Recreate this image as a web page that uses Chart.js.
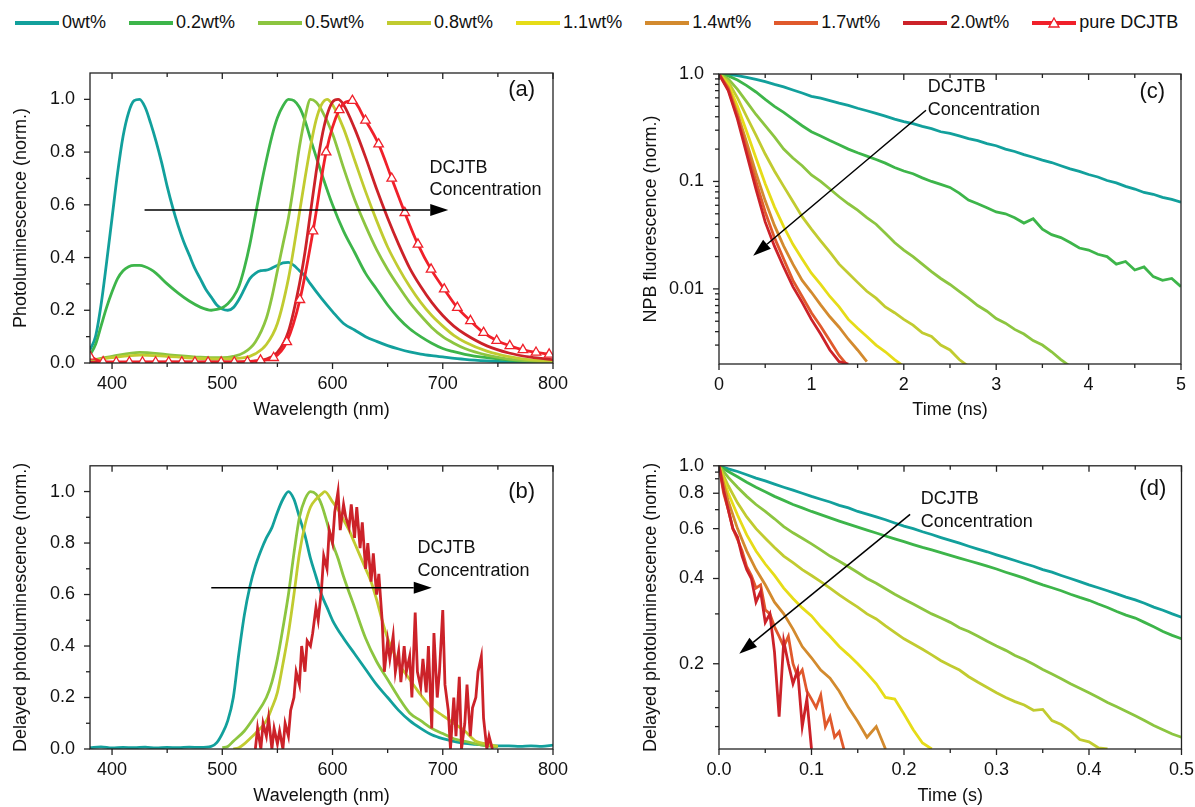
<!DOCTYPE html>
<html>
<head>
<meta charset="utf-8">
<script src="https://cdn.jsdelivr.net/npm/chart.js@4.4.1/dist/chart.umd.min.js"></script>
<style>
body { margin: 0; background: #fff; font-family: "Liberation Sans", Arial, sans-serif; }
#wrap { position: relative; width: 1195px; height: 807px; overflow: hidden; }
canvas { position: absolute; }
#legend { position: absolute; left: 15px; top: 12px; display: flex; gap: 23px; font-size: 18px; color: #111; white-space: nowrap; }
.item { display: flex; align-items: center; }
.item svg { margin-right: 3px; }
</style>
</head>
<body>
<div id="wrap">
<div id="legend"></div>
<canvas id="pa" width="600" height="400" style="left:0;top:40px"></canvas>
<canvas id="pc" width="596" height="400" style="left:600px;top:40px"></canvas>
<canvas id="pb" width="600" height="367" style="left:0;top:440px"></canvas>
<canvas id="pd" width="604" height="367" style="left:600px;top:440px"></canvas>
</div>
<script>
// ---- legend ----
const seriesNames = ['0wt%', '0.2wt%', '0.5wt%', '0.8wt%', '1.1wt%', '1.4wt%', '1.7wt%', '2.0wt%', 'pure DCJTB'];
const seriesColors = ['#12a09c', '#3db54a', '#8cc540', '#c1cb30', '#e6dc18', '#d38a2e', '#e0592c', '#cc2229', '#f0202a'];

// ---- (a) photoluminescence ----
const wlTealA = [380,385,390,395,400,405,410,415,420,425,430,435,440,445,450,455,460,465,470,475,480,485,490,495,500,505,510,515,520,525,530,535,540,545,550,555,560,565,570,575,580,590,600,610,620,630,640,650,660,670,680,690,700,720,740,760,780,800];
const plTealA = [0.05,0.1,0.22,0.38,0.55,0.72,0.86,0.95,0.995,1.0,0.97,0.91,0.84,0.76,0.67,0.59,0.52,0.46,0.41,0.36,0.32,0.28,0.25,0.22,0.205,0.2,0.21,0.24,0.28,0.32,0.34,0.35,0.352,0.36,0.37,0.38,0.382,0.37,0.35,0.33,0.3,0.245,0.195,0.15,0.125,0.1,0.082,0.066,0.053,0.042,0.034,0.028,0.023,0.014,0.008,0.004,0.002,0.001];
const wlGrnA = [380,385,390,395,400,405,410,415,420,425,430,435,440,450,460,470,480,490,495,500,505,510,515,520,525,530,535,540,545,550,555,560,565,570,575,580,590,600,610,620,630,640,650,660,670,680,690,700,710,720,740,760,780,800];
const plGrnA = [0.03,0.07,0.14,0.21,0.27,0.32,0.35,0.365,0.37,0.37,0.365,0.355,0.34,0.3,0.265,0.235,0.212,0.2,0.203,0.21,0.225,0.25,0.29,0.36,0.45,0.56,0.67,0.77,0.86,0.93,0.975,1.0,0.995,0.97,0.92,0.85,0.72,0.6,0.5,0.42,0.34,0.28,0.22,0.17,0.13,0.1,0.075,0.055,0.043,0.033,0.02,0.011,0.006,0.003];
const wlLgA = [380,400,425,450,480,500,510,520,530,540,545,550,555,560,565,570,575,580,585,590,600,610,620,630,640,650,660,670,680,690,700,710,720,740,760,780,800];
const plLgA = [0.01,0.025,0.04,0.032,0.022,0.02,0.025,0.04,0.08,0.17,0.25,0.35,0.45,0.55,0.68,0.82,0.93,1.0,0.99,0.96,0.87,0.74,0.62,0.52,0.43,0.355,0.29,0.23,0.18,0.135,0.1,0.075,0.055,0.03,0.015,0.007,0.003];
const wlOlA = [380,400,425,450,480,500,520,530,540,550,560,565,570,575,580,585,590,595,600,610,620,630,640,650,660,670,680,690,700,710,720,740,760,780,800];
const plOlA = [0.008,0.02,0.03,0.025,0.017,0.015,0.02,0.035,0.07,0.15,0.32,0.44,0.57,0.7,0.82,0.92,0.98,1.0,0.98,0.89,0.77,0.65,0.54,0.44,0.36,0.29,0.23,0.18,0.14,0.105,0.08,0.045,0.024,0.012,0.006];
const wlRedA = [380,450,500,520,530,540,550,560,570,575,580,585,590,595,600,605,610,620,630,640,650,660,670,680,690,700,710,720,740,760,780,800];
const plRedA = [0.003,0.004,0.004,0.005,0.008,0.015,0.04,0.12,0.3,0.42,0.57,0.72,0.85,0.94,0.99,1.0,0.98,0.89,0.78,0.66,0.55,0.45,0.36,0.29,0.23,0.18,0.14,0.11,0.065,0.038,0.022,0.013];
const wlPureA = [380,391.9,403.8,415.7,427.6,439.5,451.4,463.3,475.2,487.1,499,510.9,522.8,534.7,546.6,558.5,570.4,582.3,594.2,606.1,618,629.9,641.8,653.7,665.6,677.5,689.4,701.3,713.2,725.1,737,748.9,760.8,772.7,784.6,796.5];
const plPureA = [0.025,0.004,0.003,0.003,0.003,0.003,0.003,0.003,0.003,0.003,0.003,0.003,0.004,0.01,0.02,0.08,0.24,0.5,0.8,0.96,0.995,0.92,0.83,0.7,0.57,0.45,0.355,0.28,0.21,0.16,0.115,0.085,0.065,0.05,0.04,0.033];

// ---- (b) delayed photoluminescence ----
const wlTealB = [380,390,400,410,420,430,440,450,460,470,480,490,495,500,505,510,515,520,525,530,535,540,545,550,555,560,565,570,575,580,585,590,595,600,610,620,630,640,650,660,670,680,690,700,710,720,730,740,750,760,770,780,790,800];
const plTealB = [0.005,0.008,0.004,0.006,0.005,0.007,0.004,0.006,0.005,0.007,0.006,0.01,0.025,0.06,0.11,0.2,0.37,0.52,0.63,0.71,0.77,0.82,0.86,0.92,0.97,1.0,0.97,0.9,0.83,0.74,0.67,0.6,0.55,0.5,0.43,0.37,0.31,0.25,0.2,0.15,0.11,0.08,0.055,0.04,0.03,0.022,0.018,0.014,0.012,0.012,0.01,0.012,0.01,0.015];
const wlLgB = [500,505,510,520,530,540,545,550,555,560,565,570,575,580,585,590,595,600,605,610,620,630,640,650,660,670,680,690,700,710,720,730,740,750];
const plLgB = [0.005,0.01,0.03,0.07,0.13,0.2,0.26,0.35,0.47,0.6,0.76,0.9,0.97,1.0,0.99,0.95,0.88,0.8,0.74,0.67,0.55,0.43,0.34,0.27,0.2,0.14,0.11,0.08,0.06,0.04,0.03,0.02,0.012,0.008];
const wlOlB = [510,515,520,525,530,540,545,550,555,560,565,570,575,580,585,590,593,600,605,610,615,620,625,630,635,640,645,650,655,660,665,670,675,680,690,700,710,720,730,740,750];
const plOlB = [0.0,0.005,0.02,0.04,0.06,0.11,0.16,0.22,0.33,0.45,0.6,0.76,0.87,0.94,0.97,0.99,1.0,0.96,0.93,0.89,0.85,0.8,0.75,0.7,0.65,0.58,0.5,0.43,0.38,0.33,0.3,0.27,0.24,0.21,0.16,0.13,0.1,0.07,0.03,0.02,0.01];
const wlRedB = [530,532,535,537,540,542,545,547,550,552,555,557,560,562,565,567,570,572,575,577,580,582,585,587,590,592,595,597,600,602,605,607,610,612,615,617,620,622,625,627,630,632,635,637,640,642,645,647,650,652,655,657,660,662,665,667,670,672,675,677,680,682,685,687,690,692,695,697,700,702,705,707,710,712,715,717,720,722,725,727,730,732,735,737,740,742,745];
const plRedB = [0.0,0.08,0.0,0.1,0.05,0.12,0.0,0.08,0.02,0.07,0.0,0.1,0.05,0.15,0.2,0.3,0.25,0.4,0.3,0.42,0.4,0.45,0.55,0.5,0.62,0.75,0.7,0.85,0.8,0.92,1.0,0.85,0.95,0.9,0.86,0.95,0.82,0.94,0.78,0.88,0.7,0.8,0.65,0.76,0.6,0.68,0.5,0.3,0.42,0.35,0.44,0.3,0.38,0.26,0.4,0.3,0.36,0.2,0.53,0.3,0.24,0.35,0.22,0.4,0.08,0.45,0.2,0.3,0.54,0.25,0.15,0.0,0.2,0.05,0.28,0.0,0.1,0.25,0.05,0.16,0.2,0.3,0.36,0.12,0.0,0.05,0.0];

// ---- (c) NPB fluorescence decay (ns) ----
const tC = [0,0.1,0.2,0.3,0.4,0.5,0.6,0.7,0.8,0.9,1,1.1,1.2,1.3,1.4,1.5,1.6,1.7,1.8,1.9,2,2.1,2.2,2.3,2.4,2.5,2.6,2.7,2.8,2.9,3,3.1,3.2,3.3,3.4,3.5,3.6,3.7,3.8,3.9,4,4.1,4.2,4.3,4.4,4.5,4.6,4.7,4.8,4.9,5];
const c0 = [1.0,0.99,0.965,0.93,0.89,0.85,0.8,0.76,0.71,0.665,0.62,0.595,0.565,0.535,0.51,0.48,0.455,0.43,0.405,0.38,0.36,0.345,0.325,0.31,0.29,0.28,0.265,0.25,0.24,0.225,0.215,0.2,0.19,0.178,0.168,0.158,0.15,0.14,0.131,0.124,0.116,0.11,0.102,0.097,0.09,0.085,0.079,0.076,0.071,0.068,0.064];
const c02 = [1.0,0.96,0.88,0.78,0.68,0.58,0.5,0.44,0.38,0.33,0.29,0.265,0.24,0.22,0.2,0.185,0.172,0.16,0.148,0.135,0.125,0.118,0.108,0.1,0.094,0.088,0.078,0.067,0.062,0.057,0.052,0.05,0.046,0.041,0.045,0.036,0.032,0.03,0.027,0.024,0.023,0.021,0.02,0.017,0.018,0.015,0.016,0.013,0.012,0.0125,0.0105];
const c05 = [1.0,0.9,0.72,0.55,0.42,0.33,0.26,0.2,0.165,0.14,0.115,0.1,0.085,0.072,0.062,0.054,0.046,0.04,0.033,0.027,0.023,0.02,0.017,0.0145,0.0125,0.011,0.0095,0.0082,0.007,0.0062,0.0053,0.0048,0.0042,0.0038,0.0033,0.003,0.0026,0.0022,0.0019];
const c08 = [1.0,0.85,0.6,0.4,0.27,0.18,0.125,0.09,0.065,0.047,0.036,0.028,0.022,0.017,0.014,0.0115,0.0095,0.0082,0.0068,0.006,0.0052,0.0046,0.0039,0.0036,0.003,0.0027,0.0022,0.0019];
const c11 = [1.0,0.8,0.5,0.29,0.165,0.095,0.058,0.038,0.026,0.019,0.014,0.011,0.0085,0.0068,0.0052,0.0043,0.0036,0.003,0.0026,0.0022,0.0019];
const c14 = [1.0,0.75,0.43,0.23,0.12,0.066,0.039,0.025,0.017,0.012,0.0093,0.0071,0.0055,0.0044,0.0034,0.0027,0.0021];
const c17 = [1.0,0.72,0.4,0.2,0.1,0.052,0.03,0.019,0.012,0.0085,0.006,0.0045,0.0033,0.0024,0.0019];
const c20 = [1.0,0.7,0.38,0.18,0.085,0.042,0.025,0.016,0.0105,0.0075,0.0052,0.0038,0.0027,0.0021,0.002];

// ---- (d) delayed PL decay (s) ----
const tD = [0,0.01,0.02,0.03,0.04,0.05,0.06,0.07,0.08,0.09,0.1,0.11,0.12,0.13,0.14,0.15,0.16,0.17,0.18,0.19,0.2,0.21,0.22,0.23,0.24,0.25,0.26,0.27,0.28,0.29,0.3,0.31,0.32,0.33,0.34,0.35,0.36,0.37,0.38,0.39,0.4,0.41,0.42,0.43,0.44,0.45,0.46,0.47,0.48,0.49,0.5];
const tDfine = [0,0.005,0.01,0.015,0.02,0.025,0.03,0.035,0.04,0.045,0.05,0.055,0.06,0.065,0.07,0.075,0.08,0.085,0.09,0.095,0.1,0.105,0.11,0.115,0.12,0.125,0.13,0.135];
const d0 = [1.0,0.975,0.955,0.93,0.905,0.885,0.862,0.84,0.82,0.8,0.78,0.762,0.745,0.725,0.71,0.69,0.675,0.66,0.645,0.628,0.612,0.6,0.585,0.572,0.558,0.545,0.533,0.52,0.508,0.497,0.485,0.474,0.463,0.452,0.442,0.43,0.421,0.41,0.4,0.39,0.38,0.371,0.362,0.353,0.344,0.336,0.327,0.317,0.309,0.3,0.292];
const d02 = [1.0,0.955,0.915,0.875,0.84,0.81,0.78,0.755,0.73,0.71,0.69,0.672,0.655,0.638,0.622,0.607,0.593,0.579,0.565,0.552,0.54,0.527,0.515,0.505,0.494,0.483,0.472,0.462,0.452,0.442,0.432,0.421,0.411,0.401,0.39,0.38,0.371,0.362,0.352,0.343,0.335,0.325,0.316,0.306,0.297,0.29,0.28,0.27,0.26,0.252,0.245];
const d05 = [1.0,0.91,0.84,0.78,0.73,0.69,0.65,0.61,0.58,0.555,0.53,0.505,0.48,0.46,0.44,0.42,0.4,0.385,0.368,0.352,0.338,0.325,0.312,0.3,0.29,0.28,0.268,0.26,0.25,0.24,0.231,0.223,0.214,0.207,0.199,0.191,0.184,0.177,0.17,0.164,0.158,0.152,0.146,0.141,0.136,0.131,0.126,0.121,0.117,0.113,0.11];
const d08 = [1.0,0.85,0.74,0.66,0.6,0.555,0.515,0.48,0.455,0.43,0.41,0.39,0.37,0.35,0.333,0.317,0.3,0.288,0.272,0.258,0.245,0.235,0.225,0.215,0.205,0.197,0.19,0.18,0.172,0.165,0.158,0.152,0.147,0.143,0.137,0.138,0.126,0.122,0.116,0.108,0.106,0.101,0.1];
const d11 = [1.0,0.8,0.67,0.57,0.5,0.45,0.41,0.37,0.34,0.315,0.295,0.27,0.25,0.23,0.215,0.2,0.185,0.17,0.152,0.15,0.133,0.117,0.105,0.1];
const d14 = [1.0,0.75,0.6,0.5,0.43,0.38,0.33,0.3,0.265,0.23,0.21,0.19,0.178,0.16,0.14,0.125,0.11,0.12,0.1];
const d17 = [1.0,0.8,0.7,0.6,0.55,0.5,0.44,0.41,0.37,0.38,0.31,0.3,0.27,0.25,0.23,0.25,0.2,0.18,0.19,0.16,0.15,0.14,0.155,0.12,0.13,0.11,0.115,0.1];
const d20 = [1.0,0.82,0.7,0.6,0.56,0.48,0.43,0.4,0.33,0.36,0.28,0.3,0.22,0.13,0.24,0.2,0.17,0.19,0.12,0.15,0.1];

// ---- ticks ----
const wlTicks = [400, 500, 600, 700, 800];
const wlLabels = ['400', '500', '600', '700', '800'];
const wlMinor = [450, 550, 650, 750];
const plTicks = [0, 0.2, 0.4, 0.6, 0.8, 1.0];
const plLabels = ['0.0', '0.2', '0.4', '0.6', '0.8', '1.0'];
const plMinor = [0.1, 0.3, 0.5, 0.7, 0.9];
const nsTicks = [0, 1, 2, 3, 4, 5];
const nsLabels = ['0', '1', '2', '3', '4', '5'];
const nsMinor = [0.5, 1.5, 2.5, 3.5, 4.5];
const logTicksC = [0.01, 0.1, 1];
const logLabelsC = ['0.01', '0.1', '1.0'];
const logMinorC = [0.003,0.004,0.005,0.006,0.007,0.008,0.009,0.02,0.03,0.04,0.05,0.06,0.07,0.08,0.09,0.2,0.3,0.4,0.5,0.6,0.7,0.8,0.9];
const sTicks = [0, 0.1, 0.2, 0.3, 0.4, 0.5];
const sLabels = ['0.0', '0.1', '0.2', '0.3', '0.4', '0.5'];
const sMinor = [0.05, 0.15, 0.25, 0.35, 0.45];
const logTicksD = [0.2, 0.4, 0.6, 0.8, 1.0];
const logLabelsD = ['0.2', '0.4', '0.6', '0.8', '1.0'];
const logMinorD = [0.12, 0.14, 0.16, 0.3, 0.5, 0.7, 0.9, 0.95];

const FONT = '"Liberation Sans", Arial, sans-serif';
Chart.defaults.font.family = FONT;
Chart.defaults.font.size = 18;
Chart.defaults.color = '#111';

// legend (html)
const legend = document.getElementById('legend');
seriesNames.forEach((name, i) => {
  const item = document.createElement('div');
  item.className = 'item';
  const mark = i === 8
    ? '<polygon points="22,1 27,10 17,10" fill="#fff" stroke="' + seriesColors[i] + '" stroke-width="1.3"/>'
    : '';
  item.innerHTML = '<svg width="44" height="12"><line x1="0" y1="6" x2="44" y2="6" stroke="' + seriesColors[i] + '" stroke-width="4"/>' + mark + '</svg><span>' + name + '</span>';
  legend.appendChild(item);
});

function decoFor(o) {
  return {
    id: 'deco',
    afterDatasetsDraw(chart) {
      const c = chart.ctx, a = chart.chartArea, sx = chart.scales.x, sy = chart.scales.y;
      const line = (x1, y1, x2, y2) => { c.beginPath(); c.moveTo(x1, y1); c.lineTo(x2, y2); c.stroke(); };
      c.save();
      c.strokeStyle = '#222';
      c.lineWidth = 1.3;
      c.strokeRect(a.left, a.top, a.right - a.left, a.bottom - a.top);
      o.x.ticks.forEach(v => { const p = sx.getPixelForValue(v); line(p, a.bottom, p, a.bottom + 6); line(p, a.top, p, a.top + 6); });
      o.x.minor.forEach(v => { const p = sx.getPixelForValue(v); line(p, a.bottom, p, a.bottom + 4); line(p, a.top, p, a.top + 4); });
      o.y.ticks.forEach(v => { const p = sy.getPixelForValue(v); line(a.left - 6, p, a.left, p); });
      o.y.minor.forEach(v => { const p = sy.getPixelForValue(v); line(a.left - 4, p, a.left, p); });

      // concentration arrow
      const x0 = sx.getPixelForValue(o.arrow[0][0]), y0 = sy.getPixelForValue(o.arrow[0][1]);
      const x1 = sx.getPixelForValue(o.arrow[1][0]), y1 = sy.getPixelForValue(o.arrow[1][1]);
      const ang = Math.atan2(y1 - y0, x1 - x0), hl = 18, hw = 6;
      const bx = x1 - hl * Math.cos(ang), by = y1 - hl * Math.sin(ang);
      c.strokeStyle = '#000';
      c.lineWidth = 1.5;
      line(x0, y0, bx, by);
      c.fillStyle = '#000';
      c.beginPath();
      c.moveTo(x1, y1);
      c.lineTo(bx + hw * Math.sin(ang), by - hw * Math.cos(ang));
      c.lineTo(bx - hw * Math.sin(ang), by + hw * Math.cos(ang));
      c.closePath();
      c.fill();

      c.fillStyle = '#111';
      c.textBaseline = 'middle';
      o.notes.forEach(n => {
        c.font = n.size + 'px ' + FONT;
        c.textAlign = n.align;
        c.fillText(n.text, sx.getPixelForValue(n.x), sy.getPixelForValue(n.y));
      });
      c.restore();
    }
  };
}

function makeChart(id, o) {
  const datasets = o.series.map(s => ({
    label: seriesNames[s.c],
    data: s.y.map((v, i) => ({ x: s.x[i], y: v })),
    borderColor: seriesColors[s.c],
    borderWidth: 2.8,
    pointRadius: s.marker ? 5.5 : 0,
    pointStyle: 'triangle',
    pointBackgroundColor: '#fff',
    pointBorderColor: seriesColors[s.c],
    pointBorderWidth: 1.3,
    cubicInterpolationMode: s.smooth ? 'monotone' : 'default',
    tension: 0,
    fill: false
  }));
  const scaleBase = (ax, fit) => ({
    type: ax.type || 'linear',
    min: ax.min,
    max: ax.max,
    afterBuildTicks: s => { s.ticks = ax.ticks.map(v => ({ value: v })); },
    afterFit: fit,
    grid: { display: false, drawTicks: false },
    border: { display: false },
    ticks: { autoSkip: false, maxRotation: 0, padding: ax.pad, callback: (v, i) => ax.labels[i] },
    title: { display: true, text: ax.title, padding: ax.titlePad }
  });
  return new Chart(document.getElementById(id), {
    type: 'line',
    data: { datasets },
    options: {
      responsive: false,
      animation: false,
      devicePixelRatio: 1,
      layout: { padding: o.padding },
      plugins: { legend: { display: false }, tooltip: { enabled: false } },
      scales: {
        x: scaleBase(o.x, s => { s.height = o.xH; }),
        y: scaleBase(o.y, s => { s.width = o.yW; })
      }
    },
    plugins: [decoFor(o)]
  });
}

makeChart('pa', {
  padding: { left: 6, right: 47, top: 33, bottom: 0 }, yW: 84, xH: 77,
  x: { min: 380, max: 800, ticks: wlTicks, labels: wlLabels, minor: wlMinor, title: 'Wavelength (nm)', pad: 10, titlePad: { top: 0, bottom: 19 } },
  y: { min: 0, max: 1.1, ticks: plTicks, labels: plLabels, minor: plMinor, title: 'Photoluminescence (norm.)', pad: 15, titlePad: { top: 4, bottom: 0 } },
  series: [
    { c: 8, x: wlPureA, y: plPureA, smooth: true, marker: true },
    { c: 7, x: wlRedA, y: plRedA, smooth: true },
    { c: 3, x: wlOlA, y: plOlA, smooth: true },
    { c: 2, x: wlLgA, y: plLgA, smooth: true },
    { c: 1, x: wlGrnA, y: plGrnA, smooth: true },
    { c: 0, x: wlTealA, y: plTealA, smooth: true }
  ],
  arrow: [[429.5, 0.58], [705, 0.58]],
  notes: [
    { x: 688, y: 0.74, text: 'DCJTB', align: 'left', size: 18 },
    { x: 688, y: 0.655, text: 'Concentration', align: 'left', size: 18 },
    { x: 771.5, y: 1.035, text: '(a)', align: 'center', size: 22 }
  ]
});

makeChart('pb', {
  padding: { left: 6, right: 47, top: 19, bottom: 0 }, yW: 84, xH: 58,
  x: { min: 380, max: 800, ticks: wlTicks, labels: wlLabels, minor: wlMinor, title: 'Wavelength (nm)', pad: 10, titlePad: { top: 0, bottom: 0 } },
  y: { min: 0, max: 1.1, ticks: plTicks, labels: plLabels, minor: plMinor, title: 'Delayed photoluminescence (norm.)', pad: 15, titlePad: { top: 4, bottom: 0 } },
  series: [
    { c: 7, x: wlRedB, y: plRedB },
    { c: 3, x: wlOlB, y: plOlB, smooth: true },
    { c: 2, x: wlLgB, y: plLgB, smooth: true },
    { c: 0, x: wlTealB, y: plTealB, smooth: true }
  ],
  arrow: [[490, 0.626], [690, 0.626]],
  notes: [
    { x: 677, y: 0.78, text: 'DCJTB', align: 'left', size: 18 },
    { x: 677, y: 0.69, text: 'Concentration', align: 'left', size: 18 },
    { x: 771.5, y: 1.0, text: '(b)', align: 'center', size: 22 }
  ]
});

makeChart('pc', {
  padding: { left: 36, right: 14, top: 34, bottom: 0 }, yW: 83, xH: 76,
  x: { min: 0, max: 5, ticks: nsTicks, labels: nsLabels, minor: nsMinor, title: 'Time (ns)', pad: 10, titlePad: { top: 0, bottom: 19 } },
  y: { type: 'logarithmic', min: 0.002, max: 1, ticks: logTicksC, labels: logLabelsC, minor: logMinorC, title: 'NPB fluorescence (norm.)', pad: 15, titlePad: { top: 4, bottom: 0 } },
  series: [
    { c: 7, x: tC, y: c20 },
    { c: 6, x: tC, y: c17 },
    { c: 5, x: tC, y: c14 },
    { c: 4, x: tC, y: c11 },
    { c: 3, x: tC, y: c08 },
    { c: 2, x: tC, y: c05 },
    { c: 1, x: tC, y: c02 },
    { c: 0, x: tC, y: c0 }
  ],
  arrow: [[2.24, 0.46], [0.37, 0.0203]],
  notes: [
    { x: 2.26, y: 0.75, text: 'DCJTB', align: 'left', size: 18 },
    { x: 2.26, y: 0.46, text: 'Concentration', align: 'left', size: 18 },
    { x: 4.69, y: 0.68, text: '(c)', align: 'center', size: 22 }
  ]
});

makeChart('pd', {
  padding: { left: 36, right: 14, top: 19, bottom: 0 }, yW: 83, xH: 58,
  x: { min: 0, max: 0.5, ticks: sTicks, labels: sLabels, minor: sMinor, title: 'Time (s)', pad: 10, titlePad: { top: 0, bottom: 0 } },
  y: { type: 'logarithmic', min: 0.1, max: 1, ticks: logTicksD, labels: logLabelsD, minor: logMinorD, title: 'Delayed photoluminescence (norm.)', pad: 15, titlePad: { top: 4, bottom: 0 } },
  series: [
    { c: 7, x: tDfine, y: d20 },
    { c: 6, x: tDfine, y: d17 },
    { c: 5, x: tD, y: d14 },
    { c: 4, x: tD, y: d11 },
    { c: 3, x: tD, y: d08 },
    { c: 2, x: tD, y: d05 },
    { c: 1, x: tD, y: d02 },
    { c: 0, x: tD, y: d0 }
  ],
  arrow: [[0.2066, 0.674], [0.0219, 0.217]],
  notes: [
    { x: 0.218, y: 0.763, text: 'DCJTB', align: 'left', size: 18 },
    { x: 0.218, y: 0.631, text: 'Concentration', align: 'left', size: 18 },
    { x: 0.469, y: 0.826, text: '(d)', align: 'center', size: 22 }
  ]
});
</script>
</body>
</html>
